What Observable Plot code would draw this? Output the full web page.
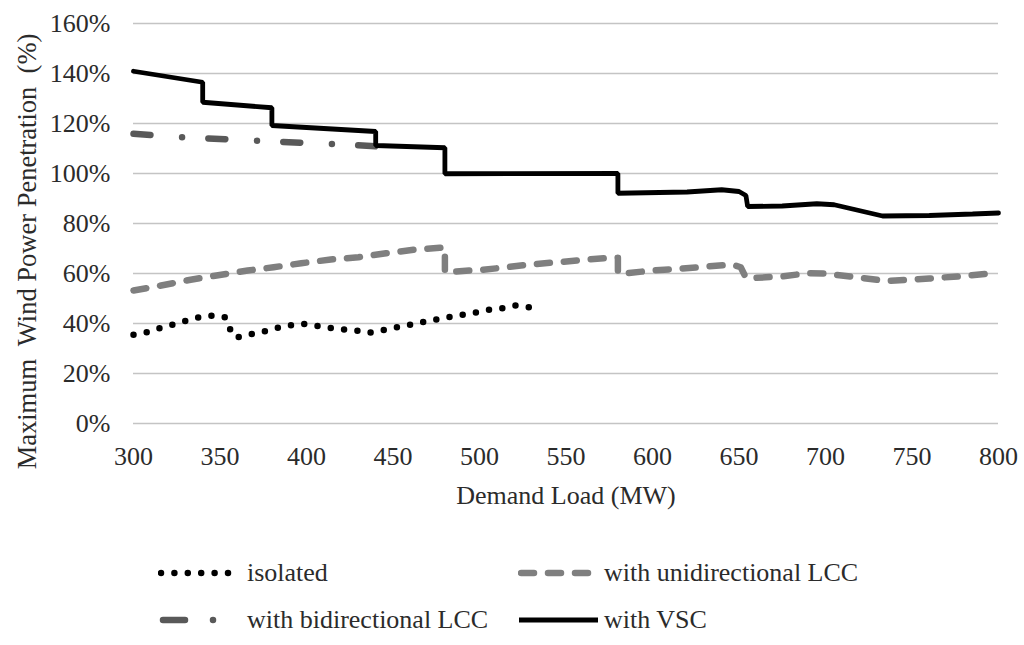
<!DOCTYPE html>
<html>
<head>
<meta charset="utf-8">
<script src="https://cdn.jsdelivr.net/npm/d3@7"></script>
<script src="https://cdn.jsdelivr.net/npm/@observablehq/plot@0.6"></script>
<style>
  html, body { margin: 0; padding: 0; background: #fff; }
  #wrap { width: 1024px; height: 645px; position: relative; overflow: hidden; }
  #legend { position: relative; width: 1024px; height: 125px; font-family: "Liberation Serif", serif; font-size: 26px; color: #2b2b2b; }
  .item { position: absolute; height: 30px; line-height: 30px; white-space: nowrap; }
</style>
</head>
<body>
<div id="wrap">
  <div id="chart"></div>
  <div id="legend"></div>
</div>
<script>
// ---- data ----
const xTicks = [300, 350, 400, 450, 500, 550, 600, 650, 700, 750, 800];
const yTicks = [0, 20, 40, 60, 80, 100, 120, 140, 160];

const seriesNames = ["isolated", "with unidirectional LCC", "with bidirectional LCC", "with VSC"];

const isolatedLoad = [300, 308, 316, 323, 331, 338, 346, 353, 356, 359, 366, 374, 381, 390, 397, 405, 413, 420, 429, 436, 443, 451, 458, 466, 474, 482, 490, 497, 505, 513, 521, 529];
const isolatedPct  = [35.5, 36.5, 38.3, 39.6, 41.2, 42.5, 43.2, 42.5, 37.5, 34.3, 35.5, 36.5, 37.9, 39.2, 39.9, 39.2, 38.3, 37.7, 37.2, 36.3, 37.2, 38.3, 39.2, 40.4, 41.5, 42.5, 43.5, 44.3, 45.5, 46.1, 47.2, 46.5];

const uniLoad = [300, 316, 333, 348, 366, 381, 397, 414, 430, 446, 462, 477, 480, 480, 494, 502, 513, 529, 545, 561, 576, 580, 580, 585, 600, 615, 632, 646, 651, 654, 660, 675, 689, 700, 718, 735, 760, 780, 800];
const uniPct  = [53.2, 55.2, 57.5, 59.2, 61.2, 62.5, 64.1, 65.6, 66.5, 68.1, 69.5, 70.3, 70.5, 60.5, 61.2, 61.5, 62.3, 63.6, 64.5, 65.5, 66.3, 66.3, 60.0, 60.1, 61.2, 61.9, 62.8, 63.6, 62.5, 58.3, 58.3, 58.8, 60.1, 60.0, 58.5, 57.0, 58.0, 59.0, 60.3];

const biLoad = [300, 320, 340, 360, 380, 400, 420, 440];
const biPct  = [115.9, 114.8, 114.1, 113.5, 112.8, 112.2, 111.6, 110.9];

const vscLoad = [300, 340, 340, 380, 380, 440, 440, 480, 480, 580, 580, 620, 640, 650, 654, 655, 675, 695, 705, 733, 760, 785, 800];
const vscPct  = [140.9, 136.5, 128.5, 126.3, 119.2, 116.8, 111.2, 110.3, 99.9, 100.0, 92.1, 92.6, 93.5, 92.8, 91.2, 86.8, 87.0, 87.9, 87.5, 83.0, 83.2, 83.8, 84.2];

const toRows = (xs, ys) => xs.map((x, i) => ({load: x, pct: ys[i]}));
const isolated = toRows(isolatedLoad, isolatedPct);
const uni = toRows(uniLoad, uniPct);
const bi = toRows(biLoad, biPct);
const vsc = toRows(vscLoad, vscPct);

const FONT = "Liberation Serif, Times New Roman, serif";
const TXT = "#2b2b2b";

const chart = Plot.plot({
  width: 1024,
  height: 520,
  marginLeft: 133,
  marginRight: 26,
  marginTop: 23,
  marginBottom: 97,
  style: {fontFamily: FONT, fontSize: "26px", color: TXT, background: "white", overflow: "visible"},
  x: {domain: [300, 800]},
  y: {domain: [0, 160]},
  marks: [
    Plot.gridY(yTicks, {stroke: "#c4c4c4", strokeOpacity: 1, strokeWidth: 1.4}),
    Plot.axisX(xTicks, {tickSize: 0, tickPadding: 23, label: null, fontSize: 26, fill: TXT}),
    Plot.axisY(yTicks, {tickSize: 0, tickPadding: 23, label: null, fontSize: 26, fill: TXT, tickFormat: d => d + "%"}),
    Plot.line(isolated, {x: "load", y: "pct", stroke: "#000", strokeWidth: 6.5, strokeLinecap: "round", strokeDasharray: "0,13.4"}),
    Plot.line(uni, {x: "load", y: "pct", stroke: "#7f7f7f", strokeWidth: 6.5, strokeLinecap: "round", strokeLinejoin: "round", strokeDasharray: "13,14"}),
    Plot.line(bi, {x: "load", y: "pct", stroke: "#595959", strokeWidth: 6.5, strokeLinecap: "round", strokeDasharray: "17,31.7,0,26.3"}),
    Plot.line(vsc, {x: "load", y: "pct", stroke: "#000", strokeWidth: 4.8, strokeLinejoin: "miter"}),
    Plot.text(["Demand Load (MW)"], {frameAnchor: "bottom", dy: 80, fontSize: 26, fill: TXT}),
    Plot.text(["Maximum\u00a0 Wind Power Penetration\u00a0 (%)"], {frameAnchor: "left", textAnchor: "middle", rotate: -90, dx: -106, dy: 28, fontSize: 26.5, fill: TXT})
  ]
});
document.getElementById("chart").appendChild(chart);

// ---- legend ----
const legendItems = [
  {name: seriesNames[0], row: 0, sx: 158, tx: 247, style: {stroke: "#000", w: 6.5, cap: "round", dash: "0,13.4", x1: 3, x2: 80}},
  {name: seriesNames[1], row: 0, sx: 518, tx: 604, style: {stroke: "#7f7f7f", w: 6.5, cap: "round", dash: "13,14", x1: 3, x2: 77}},
  {name: seriesNames[2], row: 1, sx: 158, tx: 247, style: {stroke: "#595959", w: 6.5, cap: "round", dash: "22,28,0,100", x1: 5, x2: 60}},
  {name: seriesNames[3], row: 1, sx: 518, tx: 604, style: {stroke: "#000", w: 4.8, cap: "butt", dash: "none", x1: 1, x2: 80}}
];
const rowTop = [38, 85];
const legend = document.getElementById("legend");
for (const it of legendItems) {
  const sw = document.createElement("div");
  sw.className = "item";
  sw.style.left = it.sx + "px";
  sw.style.top = rowTop[it.row] + "px";
  const s = it.style;
  sw.innerHTML = `<svg width="84" height="30" style="display:block"><line x1="${s.x1}" y1="15" x2="${s.x2}" y2="15" stroke="${s.stroke}" stroke-width="${s.w}" stroke-linecap="${s.cap}" stroke-dasharray="${s.dash}"/></svg>`;
  legend.appendChild(sw);
  const tx = document.createElement("div");
  tx.className = "item";
  tx.style.left = it.tx + "px";
  tx.style.top = rowTop[it.row] + "px";
  tx.textContent = it.name;
  legend.appendChild(tx);
}
</script>
</body>
</html>
